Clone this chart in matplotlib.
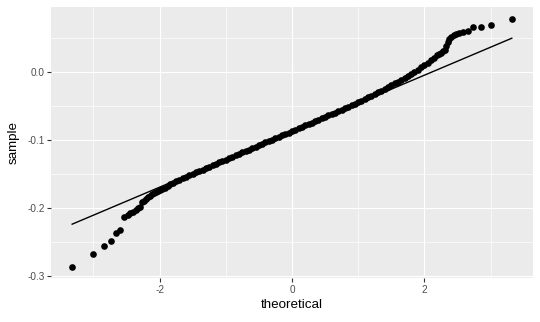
import matplotlib
matplotlib.use('Agg')
import matplotlib.pyplot as plt
import numpy as np

plt.rcParams['font.family'] = ['Liberation Sans', 'DejaVu Sans']

# normal QQ plot: theoretical quantile vs. sorted sample value
theoretical = [
    -3.32, -3.00, -2.84, -2.74, -2.66, -2.59, -2.53, -2.48, -2.44, -2.40,
    -2.36, -2.33, -2.30, -2.27, -2.24, -2.21, -2.18, -2.15, -2.12, -2.09,
    -2.06, -2.03, -2.00, -1.96, -1.92, -1.88, -1.84, -1.80,
    -1.75, -1.70, -1.65, -1.60, -1.55, -1.50, -1.45, -1.40, -1.35, -1.30,
    -1.25, -1.20, -1.15, -1.10, -1.05, -1.00, -0.95, -0.90, -0.85, -0.80,
    -0.75, -0.70, -0.65, -0.60, -0.55, -0.50, -0.45, -0.40, -0.35, -0.30,
    -0.25, -0.20, -0.15, -0.10, -0.05, 0.00, 0.05, 0.10, 0.15, 0.20,
    0.25, 0.30, 0.35, 0.40, 0.45, 0.50, 0.55, 0.60, 0.65, 0.70,
    0.75, 0.80, 0.85, 0.90, 0.95, 1.00, 1.05, 1.10, 1.15, 1.20,
    1.25, 1.30, 1.35, 1.40, 1.45, 1.50, 1.55, 1.60, 1.65, 1.70,
    1.75, 1.80, 1.85, 1.90, 1.95, 2.00, 2.05, 2.10, 2.15, 2.19,
    2.22, 2.25, 2.28, 2.31, 2.33, 2.35, 2.37, 2.40, 2.44, 2.48,
    2.53, 2.59, 2.66, 2.74, 2.85, 3.00, 3.32,
]
sample = [
    -0.287, -0.268, -0.256, -0.248, -0.237, -0.232, -0.213, -0.210, -0.208, -0.206,
    -0.203, -0.200, -0.198, -0.191, -0.189, -0.187, -0.184, -0.182, -0.180, -0.178,
    -0.177, -0.175, -0.174, -0.172, -0.170, -0.167, -0.165, -0.163,
    -0.1605, -0.1585, -0.1563, -0.1542, -0.1520, -0.1498, -0.1477, -0.1455, -0.1434, -0.1413,
    -0.1392, -0.1371, -0.1350, -0.1330, -0.1309, -0.1288, -0.1267, -0.1246, -0.1225, -0.1204,
    -0.1183, -0.1162, -0.1141, -0.1120, -0.1099, -0.1078, -0.1057, -0.1036, -0.1015, -0.0994,
    -0.0974, -0.0953, -0.0932, -0.0911, -0.0890, -0.0869, -0.0848, -0.0827, -0.0806, -0.0785,
    -0.0764, -0.0743, -0.0722, -0.0701, -0.0680, -0.0659, -0.0638, -0.0617, -0.0596, -0.0575,
    -0.0554, -0.0532, -0.0510, -0.0488, -0.0466, -0.0443, -0.0420, -0.0396, -0.0372, -0.0347,
    -0.0322, -0.0298, -0.0273, -0.0248, -0.0222, -0.0195, -0.0168, -0.0142, -0.0116, -0.0088,
    -0.0060, -0.0032, -0.0002, 0.0035, 0.0072, 0.0108, 0.0140, 0.0175, 0.0212, 0.0245,
    0.0265, 0.0285, 0.0305, 0.0330, 0.0390, 0.0440, 0.0480, 0.0515, 0.0540, 0.0565,
    0.0580, 0.0590, 0.0600, 0.0667, 0.0667, 0.0690, 0.0780,
]

# reference line (through the quartiles)
line_intercept = -0.087
line_slope = 0.0412

fig = plt.figure(figsize=(5.4, 3.22), dpi=100)
ax = fig.add_axes([0.0944, 0.1366, 0.8926, 0.8414])
ax.set_facecolor('#EBEBEB')

ax.scatter(theoretical, sample, s=23, color='black', linewidths=0, zorder=3)
lx = np.array([min(theoretical), max(theoretical)])
ax.plot(lx, line_intercept + line_slope * lx, color='black', lw=1.0, zorder=4)

ax.set_xlim(-3.64, 3.64)
ax.set_ylim(-0.303, 0.0956)
ax.set_xticks([-2, 0, 2])
ax.set_xticklabels(['-2', '0', '2'])
ax.set_yticks([-0.3, -0.2, -0.1, 0.0])
ax.set_yticklabels(['-0.3', '-0.2', '-0.1', '0.0'])
ax.set_xticks([-3, -1, 1, 3], minor=True)
ax.set_yticks([-0.25, -0.15, -0.05, 0.05], minor=True)

ax.grid(which='major', color='white', lw=0.85)
ax.grid(which='minor', color='white', lw=0.45)
ax.set_axisbelow(True)
for sp in ax.spines.values():
    sp.set_visible(False)

ax.tick_params(which='major', length=2.7, width=0.8, color='#333333',
               labelcolor='#4D4D4D', labelsize=7.2, pad=2)
ax.tick_params(which='minor', length=0)

ax.set_xlabel('theoretical', fontsize=9.6, color='black', labelpad=3)
ax.set_ylabel('sample', fontsize=9.6, color='black', labelpad=5)

fig.savefig('out.png', dpi=100)
